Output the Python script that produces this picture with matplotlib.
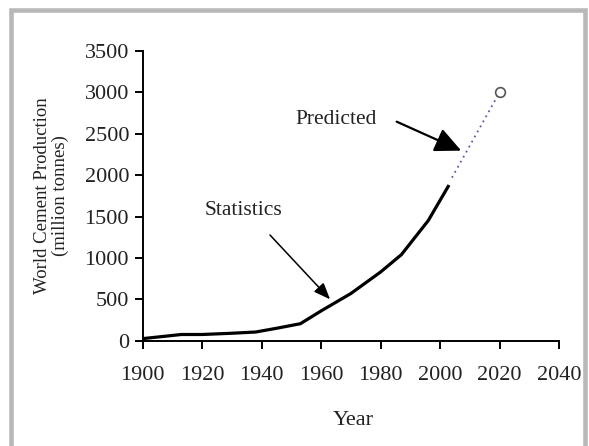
import matplotlib
matplotlib.use("Agg")
import matplotlib.pyplot as plt
from matplotlib.patches import Rectangle

plt.rcParams["font.family"] = ["Liberation Serif", "DejaVu Serif"]

INK = "#222222"
BORDER = "#b8b8b8"
PRED = "#5a5ab4"

# statistics
stat_years = [1900, 1913, 1920, 1930, 1938, 1945, 1953, 1960, 1970, 1980, 1987, 1996, 2003]
stat_vals = [25, 75, 75, 90, 105, 150, 205, 360, 570, 830, 1040, 1450, 1880]

# predicted extension
pred_years = [2004, 2020]
pred_vals = [1970, 3000]

x_ticks = [1900, 1920, 1940, 1960, 1980, 2000, 2020, 2040]
y_ticks = [0, 500, 1000, 1500, 2000, 2500, 3000, 3500]

fig = plt.figure(figsize=(5.89, 4.46), dpi=100)
ax = fig.add_axes([0.2423, 0.2361, 0.7068, 0.6496])

ax.plot(stat_years, stat_vals, color="black", linewidth=2.3, solid_capstyle="butt", zorder=3)
ax.plot(pred_years, pred_vals, color=PRED, linewidth=1.3, linestyle=(0, (1, 2.2)), zorder=3)
ax.plot(pred_years[-1:], pred_vals[-1:], marker="o", markersize=7, markerfacecolor="white",
        markeredgecolor="#555555", markeredgewidth=1.2, linestyle="none", zorder=4)

# annotations
ax.text(1964.9, 2675, "Predicted", ha="center", va="center", fontsize=15.5, color=INK)
ax.annotate("", xy=(2007.1, 2296), xytext=(1985.4, 2646),
            arrowprops=dict(arrowstyle="-|>,head_length=16,head_width=7.5", mutation_scale=1,
                            color="black", lw=1.6, shrinkA=0, shrinkB=0))
ax.text(1933.9, 1571, "Statistics", ha="center", va="center", fontsize=15.5, color=INK)
ax.annotate("", xy=(1963.0, 500), xytext=(1942.8, 1277),
            arrowprops=dict(arrowstyle="-|>,head_length=10,head_width=4", mutation_scale=1,
                            color="black", lw=1.1, shrinkA=0, shrinkB=0))

ax.set_xlim(1900, 2040)
ax.set_ylim(0, 3500)
ax.set_xticks(x_ticks)
ax.set_yticks(y_ticks)
ax.spines["top"].set_visible(False)
ax.spines["right"].set_visible(False)
for s in ("left", "bottom"):
    ax.spines[s].set_linewidth(1.4)
    ax.spines[s].set_color("black")
ax.tick_params(axis="both", direction="out", length=5.8, width=1.4, labelsize=16,
               labelcolor=INK)
ax.tick_params(axis="x", pad=12.5)
ax.tick_params(axis="y", pad=4)

ax.set_xlabel("Year", fontsize=16, color=INK)
ax.xaxis.set_label_coords(0.505, -0.277)
ax.xaxis.label.set_va("center")

fig.text(51.5 / 589, 1 - 196 / 446, "World Cement Production\n(million tonnes)",
         rotation=90, ha="center", va="center", multialignment="center",
         fontsize=13.5, color=INK, linespacing=1.05)

# grey frame around the picture
fig.patches.append(Rectangle((10.5 / 589, -0.1), (585 - 10.5) / 589, 1.1 - 9.5 / 446,
                             transform=fig.transFigure, fill=False, edgecolor=BORDER,
                             linewidth=3.3, zorder=0))

fig.savefig("out.png", dpi=100)
